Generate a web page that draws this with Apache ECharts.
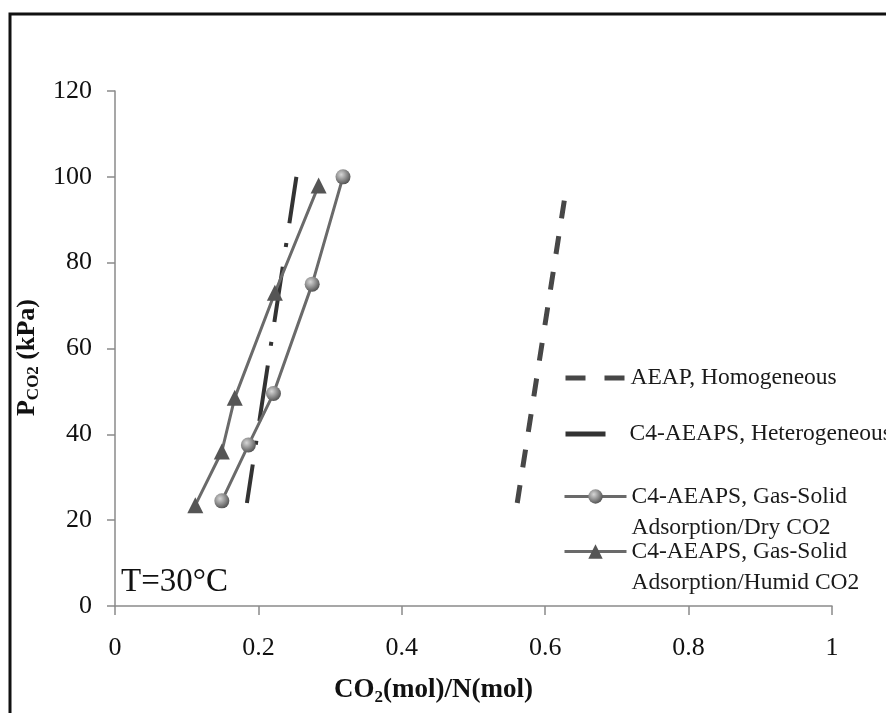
<!DOCTYPE html>
<html>
<head>
<meta charset="utf-8">
<script src="https://cdn.jsdelivr.net/npm/echarts@6/dist/echarts.min.js"></script>
<style>
  html, body { margin: 0; padding: 0; background: #fff; }
  #main { width: 886px; height: 713px; }
</style>
</head>
<body>
<div id="main"></div>
<script>
// values
var xTicks = [0, 0.2, 0.4, 0.6, 0.8, 1];
var yTicks = [0, 20, 40, 60, 80, 100, 120];

var aeapX = [0.561, 0.629];
var aeapY = [24, 97];

var hetX = [0.184, 0.253];
var hetY = [24, 100];

var dryX = [0.149, 0.186, 0.221, 0.275, 0.318];
var dryY = [24.5, 37.5, 49.5, 75, 100];

var humidX = [0.112, 0.149, 0.167, 0.223, 0.284];
var humidY = [23.5, 36, 48.5, 73, 98];

var names = [
  'AEAP, Homogeneous',
  'C4-AEAPS, Heterogeneous',
  'C4-AEAPS, Gas-Solid\nAdsorption/Dry CO2',
  'C4-AEAPS, Gas-Solid\nAdsorption/Humid CO2'
];

function pairs(xs, ys) {
  var out = [];
  for (var i = 0; i < xs.length; i++) out.push([xs[i], ys[i]]);
  return out;
}

var serif = '"Liberation Serif", "Times New Roman", serif';
var legendText = { fontFamily: serif, fontSize: 23.5, color: '#1a1a1a', lineHeight: 24 };
var legendTextTwo = { fontFamily: serif, fontSize: 23.5, color: '#1a1a1a', lineHeight: 31 };
// blank first line so the icon sits on the first text line
var twoLine = function (n) { return '\n' + n; };

var chart = echarts.init(document.getElementById('main'));

var option = {
  backgroundColor: '#fff',
  animation: false,
  grid: { left: 115, right: 54, top: 91, bottom: 107 },
  xAxis: {
    type: 'value',
    min: xTicks[0],
    max: xTicks[xTicks.length - 1],
    interval: 0.2,
    name: '{b|CO}{s|2}{b|(mol)/N(mol)}',
    nameLocation: 'middle',
    nameGap: 68,
    nameTextStyle: {
      padding: [0, 80, 0, 0],
      rich: {
        b: { fontFamily: serif, fontSize: 27, fontWeight: 'bold', color: '#111', lineHeight: 32 },
        s: { fontFamily: serif, fontSize: 17, fontWeight: 'bold', color: '#111', lineHeight: 32, verticalAlign: 'bottom' }
      }
    },
    axisLine: { lineStyle: { color: '#8a8a8a', width: 1.5 } },
    axisTick: { show: true, inside: false, length: 9, lineStyle: { color: '#8a8a8a', width: 1.5 } },
    axisLabel: { margin: 29, fontFamily: serif, fontSize: 26, color: '#111' },
    splitLine: { show: false }
  },
  yAxis: {
    type: 'value',
    min: yTicks[0],
    max: yTicks[yTicks.length - 1],
    interval: 20,
    name: '{b|P}{s|CO2}{b| (kPa)}',
    nameLocation: 'middle',
    nameRotate: 90,
    nameGap: 48,
    nameTextStyle: {
      padding: [0, 18, 0, 0],
      rich: {
        b: { fontFamily: serif, fontSize: 26, fontWeight: 'bold', color: '#111', lineHeight: 30 },
        s: { fontFamily: serif, fontSize: 17, fontWeight: 'bold', color: '#111', lineHeight: 30, verticalAlign: 'bottom' }
      }
    },
    axisLine: { show: true, lineStyle: { color: '#8a8a8a', width: 1.5 } },
    axisTick: { show: true, inside: false, length: 8, lineStyle: { color: '#8a8a8a', width: 1.5 } },
    axisLabel: { margin: 23, fontFamily: serif, fontSize: 26, color: '#111' },
    splitLine: { show: false }
  },
  legend: [
    {
      data: [names[0]], left: 563, top: 366, padding: 0,
      itemWidth: 60, itemHeight: 18, textStyle: legendText,
      itemStyle: { opacity: 0 },
      lineStyle: { color: '#474747', width: 5, type: [20, 19], cap: 'butt' }
    },
    {
      data: [names[1]], left: 563, top: 422, padding: 0,
      itemWidth: 40, itemHeight: 18,
      textStyle: { fontFamily: serif, fontSize: 23.5, color: '#1a1a1a', lineHeight: 24, padding: [0, 0, 0, 19] },
      itemStyle: { opacity: 0 },
      lineStyle: { color: '#333', width: 5, type: 'solid', cap: 'butt' }
    },
    {
      data: [names[2]], left: 563, top: 450, padding: 0,
      itemWidth: 62, itemHeight: 18, textStyle: legendTextTwo, formatter: twoLine,
      lineStyle: { color: '#6a6a6a', width: 3 }
    },
    {
      data: [names[3]], left: 563, top: 505, padding: 0,
      itemWidth: 62, itemHeight: 18, textStyle: legendTextTwo, formatter: twoLine,
      lineStyle: { color: '#6a6a6a', width: 3 }
    }
  ],
  graphic: [
    {
      type: 'rect', silent: true, z: 100,
      shape: { x: 10, y: 14, width: 1000, height: 1000 },
      style: { fill: null, stroke: '#111', lineWidth: 3 }
    },
    {
      type: 'text', left: 121, top: 566, silent: true,
      style: { text: 'T=30\u00b0C', font: '33px ' + serif, fill: '#111' }
    }
  ],
  series: [
    {
      name: names[0],
      type: 'line',
      data: pairs(aeapX, aeapY),
      symbol: 'none',
      lineStyle: { color: '#474747', width: 5, type: [18, 18], cap: 'butt' },
      itemStyle: { color: '#474747' },
      z: 2
    },
    {
      name: names[1],
      type: 'line',
      data: pairs(hetX, hetY),
      symbol: 'none',
      lineStyle: { color: '#333', width: 4, type: [56, 20, 4, 20], dashOffset: 17, cap: 'butt' },
      itemStyle: { color: '#333' },
      z: 2
    },
    {
      name: names[2],
      type: 'line',
      data: pairs(dryX, dryY),
      symbol: 'circle',
      symbolSize: 15,
      lineStyle: { color: '#6a6a6a', width: 3 },
      itemStyle: {
        color: {
          type: 'radial', x: 0.38, y: 0.35, r: 0.7,
          colorStops: [{ offset: 0, color: '#d6d6d6' }, { offset: 1, color: '#4d4d4d' }]
        }
      },
      z: 3
    },
    {
      name: names[3],
      type: 'line',
      data: pairs(humidX, humidY),
      symbol: 'triangle',
      symbolSize: 16,
      lineStyle: { color: '#6a6a6a', width: 3 },
      itemStyle: { color: '#555' },
      z: 3
    }
  ]
};

chart.setOption(option);
</script>
</body>
</html>
